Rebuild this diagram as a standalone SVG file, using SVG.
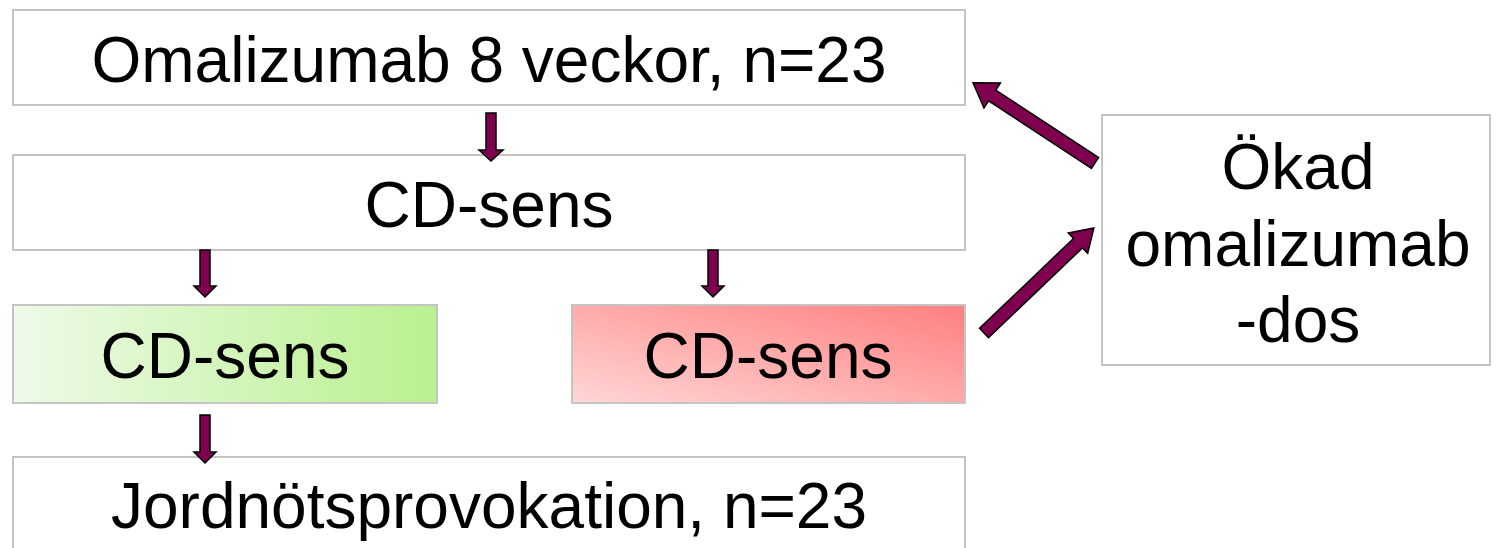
<svg xmlns="http://www.w3.org/2000/svg" width="1499" height="548" viewBox="0 0 1499 548">
<style>
.box{stroke:#c4c4c4;stroke-width:2;}
.t{font-family:"Liberation Sans",Arial,sans-serif;font-size:64px;fill:#000;text-anchor:middle;}
.arr{fill:#800050;stroke:#000;stroke-width:1.5;stroke-linejoin:miter;}
</style>
<defs>
<linearGradient id="g" x1="0" y1="0" x2="1" y2="0">
<stop offset="0" stop-color="#eefae8"/>
<stop offset="1" stop-color="#b9f08f"/>
</linearGradient>
<linearGradient id="r" x1="0" y1="1" x2="1" y2="0">
<stop offset="0" stop-color="#ffd6d6"/>
<stop offset="1" stop-color="#ff7f7f"/>
</linearGradient>
</defs>
<g id="n1"><rect class="box" x="13" y="10" width="952" height="95" fill="#fff"/><text class="t" x="489" y="82">Omalizumab 8 veckor, n=23</text></g>
<g id="n2"><rect class="box" x="13" y="155" width="952" height="95" fill="#fff"/><text class="t" x="489" y="227">CD-sens</text></g>
<g id="n3"><rect class="box" x="13" y="305" width="424" height="98" fill="url(#g)"/><text class="t" x="225" y="378">CD-sens</text></g>
<g id="n4"><rect class="box" x="572" y="305" width="393" height="98" fill="url(#r)"/><text class="t" x="768" y="378">CD-sens</text></g>
<g id="n5"><rect class="box" x="13" y="457" width="952" height="100" fill="#fff"/><text class="t" x="489" y="528">Jordnötsprovokation, n=23</text></g>
<g id="n6"><rect class="box" x="1102" y="115" width="388" height="250" fill="#fff"/><text class="t" x="1298" y="189">Ökad</text><text class="t" x="1298" y="266">omalizumab</text><text class="t" x="1298" y="342">-dos</text></g>
<g id="connectors">
<polygon class="arr" points="486,113 496,113 496,150 503,150 491,161 479,150 486,150"/>
<polygon class="arr" points="200,250 210,250 210,286 216,286 205,297 194,286 200,286"/>
<polygon class="arr" points="708,250 718,250 718,286 724,286 713,297 702,286 708,286"/>
<polygon class="arr" points="200,415 210,415 210,452 216,452 205,463 194,452 200,452"/>
<polygon class="arr" transform="translate(1095,163) rotate(213.3)" points="0,-6.5 123,-6.5 123,-15 146,0 123,15 123,6.5 0,6.5"/>
<polygon class="arr" transform="translate(984,333) rotate(-43.7)" points="0,-6.5 130,-6.5 130,-14 152,0 130,14 130,6.5 0,6.5"/>
</g>
</svg>
